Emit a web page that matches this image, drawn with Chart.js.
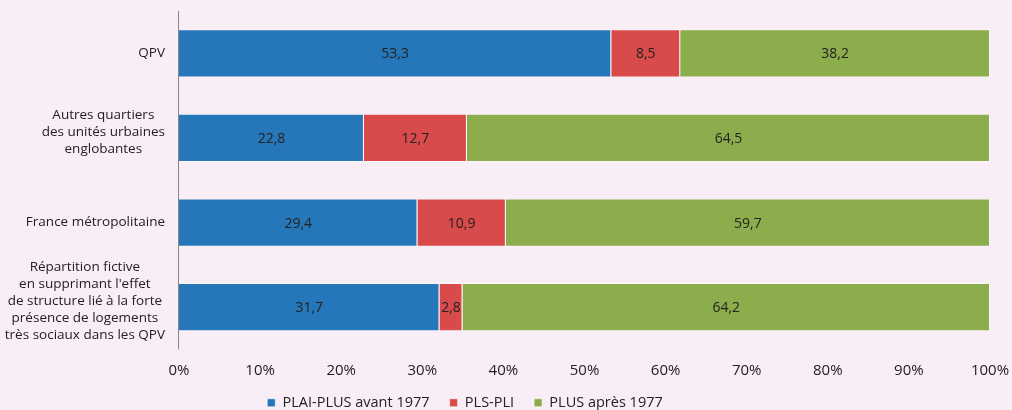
<!DOCTYPE html>
<html>
<head>
<meta charset="utf-8">
<script src="https://cdn.jsdelivr.net/npm/chart.js@4"></script>
<style>
  html, body { margin: 0; padding: 0; background: #f9eef5; }
  #wrap { width: 1012px; height: 410px; position: relative; }
</style>
</head>
<body>
<div id="wrap"><canvas id="chart"></canvas></div>
<script>
const categories = [
  ['QPV'],
  ['Autres quartiers', 'des unités urbaines', 'englobantes'],
  ['France métropolitaine'],
  ['Répartition fictive', "en supprimant l'effet", 'de structure lié à la forte', 'présence de logements', 'très sociaux dans les QPV']
];
const seriesNames = ['PLAI-PLUS avant 1977', 'PLS-PLI', 'PLUS après 1977'];
const plaiAvant = [53.3, 22.8, 29.4, 31.7];
const plsPli = [8.5, 12.7, 10.9, 2.8];
const plusApres = [38.2, 64.5, 59.7, 64.2];
const xTicks = [0, 10, 20, 30, 40, 50, 60, 70, 80, 90, 100];

const colors = ['#2677b9', '#d94b4b', '#8bad4c'];
const FONT = '"Open Sans", "Noto Sans", sans-serif';
const raw = [plaiAvant, plsPli, plusApres];

// bars are drawn as share of each row total (100 % stacked)
const totals = categories.map((c, i) => raw.reduce((s, arr) => s + arr[i], 0));

const datasets = raw.map((arr, k) => ({
  label: seriesNames[k],
  data: arr.map((v, i) => v / totals[i] * 100),
  rawValues: arr,
  backgroundColor: colors[k],
  borderColor: 'rgba(255,255,255,0.55)',
  borderWidth: 1,
  barPercentage: 0.57,
  categoryPercentage: 1
}));

const labelsPlugin = {
  id: 'labels',
  afterLayout(chart) {
    // legend sits a bit left of the page centre in the original
    chart.legend.left -= 41;
    chart.legend.right -= 41;
  },
  afterDatasetsDraw(chart) {
    const ctx = chart.ctx;
    const y = chart.scales.y;
    ctx.save();
    ctx.fillStyle = '#222';
    ctx.textBaseline = 'middle';

    // category labels, centred lines, block right-aligned to the axis
    ctx.font = '13.5px ' + FONT;
    ctx.textAlign = 'center';
    const right = chart.chartArea.left - 14;
    const lh = 16.8;
    categories.forEach((lines, i) => {
      const w = Math.max(...lines.map(l => ctx.measureText(l).width));
      const cx = right - w / 2;
      const cy = y.getPixelForValue(i) - (lines.length > 1 ? 6 : 0);
      const top = cy - (lines.length - 1) * lh / 2;
      lines.forEach((l, j) => ctx.fillText(l, cx, top + j * lh));
    });

    // values inside bars
    ctx.font = '14px ' + FONT;
    chart.data.datasets.forEach((ds, k) => {
      chart.getDatasetMeta(k).data.forEach((bar, i) => {
        const txt = ds.rawValues[i].toFixed(1).replace('.', ',');
        ctx.fillText(txt, (bar.x + bar.base) / 2, bar.y + 1);
      });
    });

    // y axis line
    ctx.strokeStyle = '#888';
    ctx.lineWidth = 1;
    ctx.beginPath();
    ctx.moveTo(chart.chartArea.left - 0.5, chart.chartArea.top);
    ctx.lineTo(chart.chartArea.left - 0.5, chart.chartArea.bottom);
    ctx.stroke();
    ctx.restore();
  }
};

new Chart(document.getElementById('chart'), {
  type: 'bar',
  data: { labels: categories.map(c => c.join(' ')), datasets },
  options: {
    indexAxis: 'y',
    responsive: true,
    maintainAspectRatio: false,
    animation: false,
    layout: { padding: { top: 11, right: 0, left: 0, bottom: -10 } },
    scales: {
      x: {
        stacked: true,
        min: 0,
        max: 100,
        grid: { display: false, drawTicks: false },
        border: { display: false },
        afterBuildTicks: axis => { axis.ticks = xTicks.map(v => ({ value: v })); },
        afterFit: axis => {
          axis.height -= 16;
          axis.paddingRight = 22;
        },
        ticks: {
          padding: 12,
          color: '#222',
          font: { family: FONT, size: 15 },
          callback: v => v + '%'
        }
      },
      y: {
        stacked: true,
        grid: { display: false },
        border: { display: false },
        ticks: { display: false },
        afterFit: axis => { axis.width = 179; }
      }
    },
    plugins: {
      legend: {
        position: 'bottom',
        labels: {
          color: '#222',
          font: { family: FONT, size: 14.5 },
          boxWidth: 8,
          boxHeight: 8,
          padding: 20
        }
      },
      tooltip: { enabled: false }
    }
  },
  plugins: [labelsPlugin]
});
</script>
</body>
</html>
